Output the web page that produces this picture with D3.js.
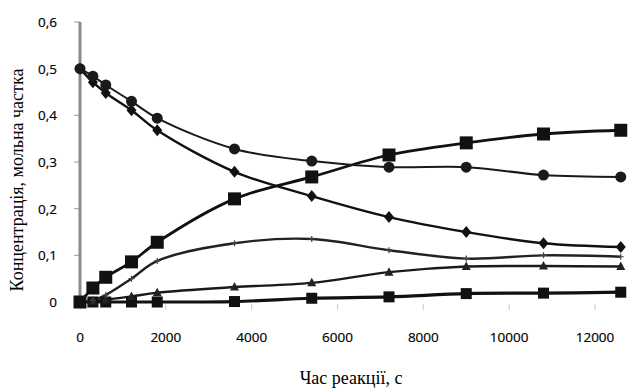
<!DOCTYPE html>
<html><head><meta charset="utf-8">
<script src="https://cdn.jsdelivr.net/npm/d3@7/dist/d3.min.js"></script>
<style>body{margin:0;background:#fff}</style>
</head><body>
<svg id="c" width="631" height="392"></svg>
<script>
const times = [0, 300, 600, 1200, 1800, 3600, 5400, 7200, 9000, 10800, 12600];
const circleSeries  = [0.50, 0.484, 0.465, 0.430, 0.394, 0.328, 0.302, 0.289, 0.289, 0.272, 0.268];
const diamondSeries = [0.50, 0.471, 0.448, 0.411, 0.368, 0.279, 0.227, 0.182, 0.150, 0.126, 0.118];
const squareSeries  = [0.0, 0.030, 0.053, 0.086, 0.128, 0.221, 0.268, 0.315, 0.341, 0.360, 0.368];
const plusSeries    = [0.0, 0.004, 0.015, 0.050, 0.088, 0.126, 0.135, 0.111, 0.093, 0.100, 0.097];
const triSeries     = [0.0, 0.002, 0.005, 0.012, 0.020, 0.032, 0.041, 0.064, 0.076, 0.077, 0.076];
const smallSqSeries = [0.0, 0.0, 0.0, 0.0, 0.0, 0.001, 0.008, 0.011, 0.018, 0.019, 0.021];
const xTicks = [0, 2000, 4000, 6000, 8000, 10000, 12000];
const yTicks = [0, 0.1, 0.2, 0.3, 0.4, 0.5, 0.6];
const xTitle = "Час реакції, с";
const yTitle = "Концентрація, мольна частка";

const svg = d3.select("#c");
const x = d3.scaleLinear().domain([0, 12000]).range([80, 595]);
const y = d3.scaleLinear().domain([0, 0.6]).range([302, 22]);

// faint x ticks
svg.append("g").selectAll("line").data(xTicks).join("line")
  .attr("x1", d => x(d)).attr("x2", d => x(d)).attr("y1", 304).attr("y2", 310)
  .attr("stroke", "#ccc").attr("stroke-width", 1);
// y ticks
svg.append("g").selectAll("line").data(yTicks).join("line")
  .attr("x1", 74).attr("x2", 80).attr("y1", d => y(d)).attr("y2", d => y(d))
  .attr("stroke", "#999").attr("stroke-width", 1);
// vertical axis
svg.append("line").attr("x1", x(0)).attr("x2", x(0)).attr("y1", y(0.6)).attr("y2", y(0) + 2)
  .attr("stroke", "#8a8a8a").attr("stroke-width", 3);

// tick labels
svg.append("g").selectAll("text").data(yTicks).join("text")
  .attr("x", 57).attr("y", d => y(d) + 5).attr("text-anchor", "end")
  .attr("font-family", "Open Sans, sans-serif").attr("font-size", 13.5).attr("fill", "#000")
  .attr("stroke", "#000").attr("stroke-width", 0.2)
  .text(d => d === 0 ? "0" : d3.format(".1f")(d).replace(".", ","));
svg.append("g").selectAll("text").data(xTicks).join("text")
  .attr("x", d => x(d)).attr("y", 342).attr("text-anchor", "middle")
  .attr("font-family", "Open Sans, sans-serif").attr("font-size", 13.5).attr("fill", "#000")
  .attr("stroke", "#000").attr("stroke-width", 0.2)
  .text(d => d);

svg.append("text").attr("x", 351).attr("y", 384).attr("text-anchor", "middle")
  .attr("font-family", "Liberation Serif, serif").attr("font-size", 18).attr("fill", "#000")
  .text(xTitle);
svg.append("text").attr("transform", "translate(23,180) rotate(-90)").attr("text-anchor", "middle")
  .attr("font-family", "Liberation Serif, serif").attr("font-size", 18).attr("fill", "#000")
  .text(yTitle);

const curve = d3.curveCatmullRom.alpha(0.5);
function series(vals, width, color) {
  const line = d3.line().x((d, i) => x(times[i])).y(d => y(d)).curve(curve);
  svg.append("path").attr("d", line(vals)).attr("fill", "none")
    .attr("stroke", color).attr("stroke-width", width);
}
series(smallSqSeries, 3.2, "#111");
series(triSeries, 2.4, "#1a1a1a");
series(plusSeries, 2.4, "#222");
series(squareSeries, 2.8, "#111");
series(diamondSeries, 2.4, "#111");
series(circleSeries, 2, "#1a1a1a");

const pts = vals => vals.map((v, i) => [x(times[i]), y(v)]);
// small squares
svg.append("g").selectAll("rect").data(pts(smallSqSeries)).join("rect")
  .attr("x", d => d[0] - 5.5).attr("y", d => d[1] - 5.5).attr("width", 11).attr("height", 11).attr("fill", "#111");
// triangles
svg.append("g").selectAll("path").data(pts(triSeries)).join("path")
  .attr("d", d => `M${d[0]},${d[1]-5}L${d[0]+4.5},${d[1]+3.5}L${d[0]-4.5},${d[1]+3.5}Z`).attr("fill", "#222");
// plus marks
svg.append("g").selectAll("path").data(pts(plusSeries)).join("path")
  .attr("d", d => `M${d[0]-3},${d[1]}H${d[0]+3}M${d[0]},${d[1]-3}V${d[1]+3}`)
  .attr("stroke", "#444").attr("stroke-width", 1.2);
// big squares
svg.append("g").selectAll("rect").data(pts(squareSeries)).join("rect")
  .attr("x", d => d[0] - 6.5).attr("y", d => d[1] - 6.5).attr("width", 13).attr("height", 13).attr("fill", "#111");
// diamonds
svg.append("g").selectAll("path").data(pts(diamondSeries)).join("path")
  .attr("d", d => `M${d[0]},${d[1]-6}L${d[0]+5},${d[1]}L${d[0]},${d[1]+6}L${d[0]-5},${d[1]}Z`).attr("fill", "#111");
// circles
svg.append("g").selectAll("circle").data(pts(circleSeries)).join("circle")
  .attr("cx", d => d[0]).attr("cy", d => d[1]).attr("r", 5.5).attr("fill", "#1a1a1a");
</script>
</body></html>
